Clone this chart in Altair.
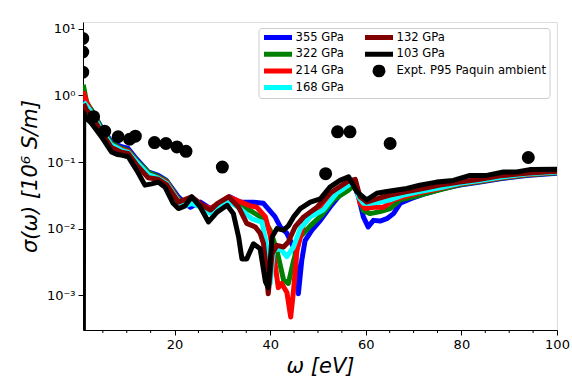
import altair as alt
import pandas as pd

# ---------------- data ----------------
SERIES = ["355 GPa", "322 GPa", "214 GPa", "168 GPa", "132 GPa", "103 GPa"]
EXPT = "Expt. P95 Paquin ambient"

x355 = [1.0, 1.6, 2.65, 4.7, 6.8, 8.9, 10.3, 12.1, 14.5, 16.6, 18.3, 20.8, 22.2, 23.3, 25.4, 27.5, 29.6,
        31.6, 33.7, 36.5, 38.6, 41.0, 42.1, 43.5, 45.2, 45.9, 46.6, 47.3, 48.7, 50.5, 52.5, 54.6, 56.4,
        57.4, 58.5, 59.5, 60.5, 61.6, 63.0, 64.4, 65.8, 67.2, 69.3, 72.7, 75.5, 79.7, 83.9, 88.1, 93.6, 100.0]
y355 = [0.9, 0.75, 0.6, 0.33, 0.2, 0.17, 0.16, 0.11, 0.071, 0.063, 0.053, 0.03, 0.024, 0.021, 0.025, 0.02,
        0.024, 0.03, 0.025, 0.025, 0.024, 0.0151, 0.0107, 0.0085, 0.0047, 0.00105, 0.0033, 0.0066, 0.0094,
        0.0133, 0.021, 0.032, 0.045, 0.05, 0.03, 0.015, 0.0106, 0.0133, 0.013, 0.0141, 0.0168, 0.024, 0.028,
        0.034, 0.039, 0.045, 0.05, 0.056, 0.063, 0.068]

x322 = [0.9, 1.6, 2.65, 4.7, 6.8, 8.9, 10.3, 12.1, 14.5, 16.6, 18.3, 20.8, 22.2, 23.6, 25.4, 27.5, 29.6,
        31.3, 33.4, 35.8, 38.6, 40.0, 41.4, 42.8, 43.8, 44.9, 46.3, 48.4, 50.8, 53.2, 56.4, 57.6, 58.1,
        59.5, 60.9, 63.0, 65.1, 67.2, 70.0, 74.1, 79.7, 83.9, 88.1, 93.6, 100.0]
y322 = [1.45, 0.8, 0.6, 0.32, 0.19, 0.16, 0.15, 0.105, 0.07, 0.06, 0.052, 0.028, 0.024, 0.026, 0.023, 0.019,
        0.024, 0.028, 0.022, 0.0188, 0.014, 0.0095, 0.0047, 0.0017, 0.0015, 0.0033, 0.0075, 0.011, 0.016,
        0.027, 0.038, 0.045, 0.038, 0.0187, 0.0168, 0.018, 0.02, 0.027, 0.03, 0.036, 0.046, 0.051, 0.057,
        0.064, 0.069]

x214 = [0.9, 1.6, 2.65, 4.7, 6.8, 8.9, 10.3, 12.1, 14.5, 16.6, 18.3, 20.8, 22.2, 23.6, 25.4, 27.5, 29.6,
        31.3, 33.4, 35.8, 37.2, 39.0, 40.0, 41.0, 41.7, 42.4, 43.5, 44.3, 44.9, 45.6, 47.0, 49.0, 51.1,
        53.2, 56.4, 57.8, 58.8, 59.9, 61.6, 63.7, 65.8, 67.9, 70.7, 74.1, 79.7, 83.9, 88.1, 93.6, 100.0]
y214 = [1.15, 0.8, 0.55, 0.3, 0.18, 0.155, 0.145, 0.1, 0.065, 0.058, 0.05, 0.027, 0.024, 0.027, 0.023, 0.02,
        0.025, 0.03, 0.026, 0.022, 0.021, 0.015, 0.008, 0.003, 0.0013, 0.0015, 0.0011, 0.00047, 0.0012,
        0.0047, 0.012, 0.0168, 0.021, 0.032, 0.048, 0.053, 0.024, 0.02, 0.021, 0.021, 0.027, 0.03, 0.034,
        0.038, 0.047, 0.052, 0.058, 0.065, 0.07]

x168 = [1.0, 1.6, 2.65, 4.7, 6.8, 8.9, 10.3, 12.1, 14.5, 16.6, 18.3, 20.8, 22.2, 23.6, 25.4, 27.5, 29.6,
        31.3, 33.7, 36.2, 38.3, 39.3, 40.0, 40.7, 42.1, 43.5, 44.9, 46.3, 48.4, 51.1, 53.9, 56.4, 57.6,
        58.5, 59.5, 60.9, 63.0, 65.1, 67.9, 71.3, 75.5, 79.7, 83.9, 88.1, 93.6, 100.0]
y168 = [0.8, 0.7, 0.55, 0.3, 0.18, 0.15, 0.14, 0.1, 0.065, 0.057, 0.048, 0.026, 0.022, 0.024, 0.021, 0.017,
        0.022, 0.026, 0.02, 0.014, 0.0125, 0.0053, 0.0015, 0.0047, 0.005, 0.0038, 0.0053, 0.01, 0.015,
        0.019, 0.034, 0.045, 0.05, 0.03, 0.024, 0.024, 0.025, 0.027, 0.032, 0.036, 0.041, 0.048, 0.053,
        0.059, 0.066, 0.071]

x132 = [1.0, 1.6, 2.65, 4.7, 6.8, 8.9, 10.3, 12.1, 14.5, 16.6, 18.3, 20.8, 23.6, 26.0, 27.5, 29.0, 31.3,
        33.4, 35.1, 36.9, 37.9, 38.6, 39.0, 39.6, 40.4, 41.4, 42.8, 43.8, 45.2, 47.0, 49.8, 52.5, 56.4,
        57.8, 58.8, 60.2, 62.3, 65.1, 68.6, 72.0, 75.5, 79.7, 83.9, 88.1, 93.6, 100.0]
y132 = [0.75, 0.6, 0.5, 0.28, 0.165, 0.14, 0.135, 0.09, 0.058, 0.055, 0.046, 0.025, 0.03, 0.022, 0.019,
        0.024, 0.03, 0.021, 0.012, 0.0106, 0.0085, 0.006, 0.0033, 0.00105, 0.0042, 0.0056, 0.0053, 0.0063,
        0.0106, 0.015, 0.021, 0.034, 0.052, 0.055, 0.03, 0.025, 0.028, 0.032, 0.036, 0.04, 0.045, 0.05,
        0.055, 0.062, 0.068, 0.073]

x103 = [0.9, 1.0, 1.6, 2.65, 4.7, 6.8, 8.0, 8.9, 10.3, 12.1, 13.8, 15.2, 16.6, 18.0, 19.7, 20.8, 22.2, 23.6,
        25.4, 27.1, 28.9, 31.0, 32.3, 33.4, 34.1, 35.1, 36.5, 37.9, 39.0, 39.6, 40.4, 41.4, 42.8, 43.8, 44.9,
        46.3, 48.4, 50.5, 52.5, 54.6, 56.4, 58.1, 60.2, 62.3, 64.4, 66.5, 68.6, 71.3, 74.8, 78.3, 81.8, 85.3,
        88.8, 91.6, 94.3, 100.0]
y103 = [1e-5, 0.55, 0.45, 0.38, 0.24, 0.142, 0.13, 0.127, 0.12, 0.075, 0.045, 0.047, 0.05, 0.042, 0.024,
        0.02, 0.022, 0.03, 0.021, 0.0126, 0.0177, 0.0224, 0.0168, 0.0075, 0.0035, 0.0035, 0.0059, 0.005,
        0.0016, 0.0013, 0.0075, 0.01, 0.0095, 0.011, 0.015, 0.02, 0.025, 0.028, 0.042, 0.053, 0.06, 0.036,
        0.027, 0.034, 0.036, 0.038, 0.04, 0.045, 0.05, 0.053, 0.063, 0.063, 0.071, 0.071, 0.077, 0.078]

expt_x = [0.8, 0.8, 0.8, 3.07, 5.4, 8.2, 10.6, 11.8, 15.8, 18.2, 20.5, 22.4, 30.0, 51.6, 54.1, 56.7, 65.1, 94.0]
expt_y = [7.2, 4.5, 2.24, 0.48, 0.29, 0.24, 0.22, 0.245, 0.196, 0.19, 0.169, 0.145, 0.084, 0.067, 0.284,
          0.284, 0.19, 0.117]

minor_x = [5, 10, 15, 25, 30, 35, 45, 50, 55, 65, 70, 75, 85, 90, 95]
y_tick_values = [1e-3, 1e-2, 1e-1, 1, 10]
x_tick_values = [20, 40, 60, 80, 100]

XS = [x355, x322, x214, x168, x132, x103]
YS = [y355, y322, y214, y168, y132, y103]

rows = []
for name, xs, ys in zip(SERIES, XS, YS):
    for a, b in zip(xs, ys):
        rows.append({"series": name, "w": a, "s": b})
df = pd.DataFrame(rows)
df_expt = pd.DataFrame({"w": expt_x, "s": expt_y, "series": [EXPT] * len(expt_x)})
df_minor = pd.DataFrame({"w": minor_x})

FONT = "DejaVu Sans"
W, H = 474, 308

xscale = alt.Scale(domain=[0.85, 100], nice=False, zero=False)
yscale = alt.Scale(type="log", domain=[3.0e-4, 12.7], nice=False)

# Vega fills legend columns top-to-bottom, so the natural order gives the matplotlib layout
legend_order = SERIES + [EXPT]
legend_colors = ["#0000ff", "#008000", "#ff0000", "#00ffff", "#800000", "#000000", "#000000"]
LINE_SYMBOL = "M-3.5,0L3.5,0"
legend_shapes = [LINE_SYMBOL] * 6 + ["circle"]

stroke_scale = alt.Scale(domain=legend_order, range=legend_colors)
fill_scale = alt.Scale(domain=legend_order, range=legend_colors)
shape_scale = alt.Scale(domain=legend_order, range=legend_shapes)

legend = alt.Legend(
    title=None, orient="none", legendX=175.5, legendY=6, columns=2, columnPadding=18, rowPadding=3.7,
    clipHeight=13, labelLimit=400,
    labelFont=FONT, labelFontSize=11.6, labelColor="black", labelOffset=11, symbolOffset=10,
    symbolStrokeWidth=5, symbolOpacity=1, symbolSize=64,
    fillColor="white", strokeColor="#cccccc", cornerRadius=3, padding=3,
)

xenc = alt.X("w:Q", scale=xscale,
             axis=alt.Axis(values=x_tick_values, title="ω [eV]", titleFontStyle="italic",
                           titleFontSize=21, titleFont=FONT, titleFontWeight="normal",
                           titlePadding=4, labelFont=FONT, labelFontSize=13, labelColor="black",
                           labelPadding=3, tickSize=5, tickColor="black", domainColor="black",
                           grid=False, labelFlush=False))
yenc = alt.Y("s:Q", scale=yscale,
             axis=alt.Axis(values=y_tick_values, title="σ(ω) [10⁶ S/m]", titleFontStyle="italic",
                           titleFontSize=21, titleFont=FONT, titleFontWeight="normal", titlePadding=6,
                           labelFont=FONT, labelFontSize=13, labelColor="black", labelPadding=3,
                           tickSize=5, tickColor="black", domainColor="black", grid=False,
                           labelExpr="datum.value >= 5 ? '10¹' : datum.value >= 0.5 ? '10⁰' : "
                                     "datum.value >= 0.05 ? '10⁻¹' : datum.value >= 0.005 ? '10⁻²' : '10⁻³'"))

layers = []
for name in SERIES:
    layers.append(
        alt.Chart(df).transform_filter(alt.datum.series == name)
        .mark_line(clip=True, strokeWidth=5, strokeJoin="round")
        .encode(x=xenc, y=yenc,
                stroke=alt.Stroke("series:N", scale=stroke_scale, legend=legend))
    )

points = alt.Chart(df_expt).mark_point(clip=True, filled=True, opacity=1, strokeWidth=5, size=64).encode(
    x=alt.X("w:Q", scale=xscale), y=alt.Y("s:Q", scale=yscale),
    fill=alt.Fill("series:N", scale=fill_scale, legend=legend),
    stroke=alt.Stroke("series:N", scale=stroke_scale, legend=legend),
    shape=alt.Shape("series:N", scale=shape_scale, legend=legend),
)

minor = alt.Chart(df_minor).mark_rule(color="black", strokeWidth=1).encode(
    x=alt.X("w:Q", scale=xscale), y=alt.value(H), y2=alt.value(H + 3))

chart = alt.layer(*layers, points, minor).properties(
    width=W, height=H,
    autosize=alt.AutoSizeParams(type="none"),
    padding={"left": 83, "top": 22, "right": 15, "bottom": 51},
).configure_view(stroke="black", strokeWidth=1.2).configure(background="white")

chart.save("out.html", embed_options={"renderer": "svg", "actions": False})
